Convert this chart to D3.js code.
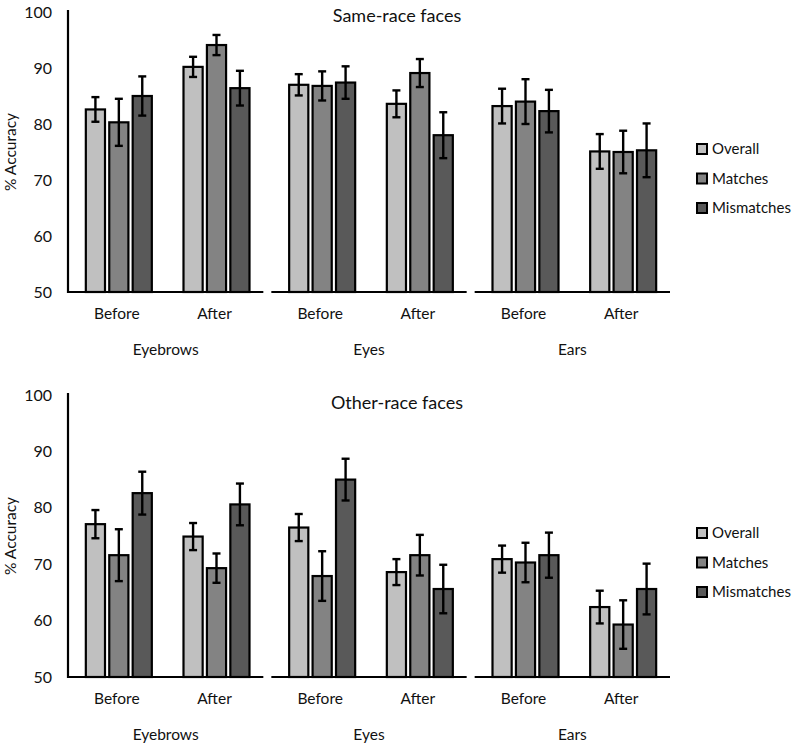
<!DOCTYPE html>
<html><head><meta charset="utf-8">
<script src="https://cdn.jsdelivr.net/npm/d3@7"></script>
<style>body{margin:0;background:#fff}svg{display:block}text{font-family:Lato,"Open Sans",sans-serif;fill:#111}</style>
</head><body><svg id="c" width="800" height="747"></svg>
<script>
const features = ["Eyebrows", "Eyes", "Ears"];
const phases = ["Before", "After"];
const seriesNames = ["Overall", "Matches", "Mismatches"];
const seriesColors = ["#c0c0c0", "#838383", "#595959"];
const yTicks = [50, 60, 70, 80, 90, 100];

// values per feature/phase: [Overall, Matches, Mismatches]
const sameMeans = [
  [82.6, 80.3, 85.0], [90.2, 94.1, 86.4],
  [87.0, 86.8, 87.4], [83.6, 89.1, 78.0],
  [83.2, 84.0, 82.3], [75.1, 75.0, 75.3]
];
const sameErrs = [
  [2.2, 4.2, 3.5], [1.8, 1.8, 3.1],
  [1.9, 2.6, 2.9], [2.4, 2.5, 4.1],
  [3.1, 4.0, 3.8], [3.1, 3.8, 4.8]
];
const otherMeans = [
  [77.1, 71.6, 82.6], [74.9, 69.3, 80.6],
  [76.5, 67.9, 85.0], [68.6, 71.6, 65.6],
  [70.9, 70.3, 71.6], [62.4, 59.3, 65.6]
];
const otherErrs = [
  [2.5, 4.6, 3.8], [2.4, 2.6, 3.7],
  [2.4, 4.4, 3.7], [2.3, 3.6, 4.3],
  [2.4, 3.5, 4.0], [2.9, 4.3, 4.5]
];

const svg = d3.select("#c");
const xLeft = 68, xRight = 670;
const gap = 8;
const groupW = (xRight - xLeft - 2 * gap) / 3;
const xFeat = d3.scaleOrdinal().domain(features).range(features.map((f, i) => xLeft + i * (groupW + gap)));
const xPhase = d3.scaleBand().domain(phases).range([0, groupW]);
const barStep = 22;
const xSeries = d3.scaleBand().domain(seriesNames).range([0, barStep * 3]).paddingInner(4 / 22).paddingOuter(0);

function panel(title, means, errs, top, bottom, titleY, legendY) {
  const g = svg.append("g");
  const y = d3.scaleLinear().domain([50, 100]).range([bottom, top]);
  g.selectAll(".yt").data(yTicks).join("text")
    .attr("x", 52).attr("y", d => y(d)).attr("dy", "0.35em")
    .attr("text-anchor", "end").style("font-size", "16px").text(d => d);
  g.append("text").attr("transform", `translate(16,${(top + bottom) / 2}) rotate(-90)`)
    .attr("text-anchor", "middle").style("font-size", "15.5px").text("% Accuracy");
  g.append("text").attr("x", 397).attr("y", titleY).attr("dy", "0.35em")
    .attr("text-anchor", "middle").style("font-size", "18px").text(title);

  const data = [];
  features.forEach((f, fi) => phases.forEach((p, pi) => seriesNames.forEach((s, si) => {
    const k = fi * 2 + pi;
    data.push({f, p, s, si, v: means[k][si], e: errs[k][si]});
  })));
  const cx = d => xFeat(d.f) + xPhase(d.p) + (xPhase.bandwidth() - barStep * 3 + 4) / 2 + xSeries(d.s);
  g.selectAll(".bar").data(data).join("rect")
    .attr("x", cx).attr("width", xSeries.bandwidth())
    .attr("y", d => y(d.v)).attr("height", d => y(50) - y(d.v))
    .attr("fill", d => seriesColors[d.si]).attr("stroke", "#000").attr("stroke-width", 2.2);
  const eg = g.selectAll(".err").data(data).join("g").attr("stroke", "#000").attr("stroke-width", 2.4);
  eg.append("line").attr("x1", d => cx(d) + xSeries.bandwidth() / 2).attr("x2", d => cx(d) + xSeries.bandwidth() / 2)
    .attr("y1", d => y(d.v + d.e)).attr("y2", d => y(d.v - d.e));
  [1, -1].forEach(sg => eg.append("line")
    .attr("x1", d => cx(d) + xSeries.bandwidth() / 2 - 4).attr("x2", d => cx(d) + xSeries.bandwidth() / 2 + 4)
    .attr("y1", d => y(d.v + sg * d.e)).attr("y2", d => y(d.v + sg * d.e)));

  g.append("line").attr("x1", xLeft).attr("x2", xLeft).attr("y1", top - 2).attr("y2", bottom + 1)
    .attr("stroke", "#000").attr("stroke-width", 2.2);
  features.forEach(f => {
    g.append("line").attr("x1", xFeat(f)).attr("x2", xFeat(f) + groupW).attr("y1", bottom).attr("y2", bottom)
      .attr("stroke", "#000").attr("stroke-width", 2.2);
    phases.forEach(p => g.append("text").attr("x", xFeat(f) + xPhase(p) + xPhase.bandwidth() / 2)
      .attr("y", bottom + 22).attr("dy", "0.35em").attr("text-anchor", "middle").style("font-size", "15.5px").text(p));
    g.append("text").attr("x", xFeat(f) + groupW / 2).attr("y", bottom + 58).attr("dy", "0.35em")
      .attr("text-anchor", "middle").style("font-size", "15.5px").text(f);
  });

  seriesNames.forEach((s, i) => {
    const ly = legendY + i * 29.5;
    g.append("rect").attr("x", 697).attr("y", ly - 5).attr("width", 10).attr("height", 10)
      .attr("fill", seriesColors[i]).attr("stroke", "#000").attr("stroke-width", 2);
    g.append("text").attr("x", 712).attr("y", ly).attr("dy", "0.35em").style("font-size", "15px").text(s);
  });
}

panel("Same-race faces", sameMeans, sameErrs, 12, 292, 16, 149);
panel("Other-race faces", otherMeans, otherErrs, 395, 677, 403, 533);
</script></body></html>
